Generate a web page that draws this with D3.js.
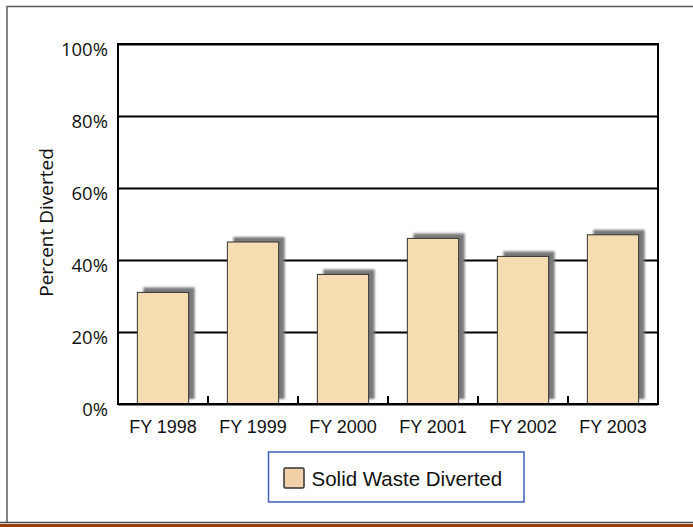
<!DOCTYPE html>
<html><head><meta charset="utf-8">
<script src="https://cdn.jsdelivr.net/npm/d3@7"></script>
<style>
html,body{margin:0;padding:0;background:#fff;}
svg{display:block;}
</style></head>
<body>
<svg id="chart" width="693" height="527"></svg>
<script>
const categories = ["FY 1998","FY 1999","FY 2000","FY 2001","FY 2002","FY 2003"];
const values = [31, 45, 36, 46, 41, 47];
const yTicks = [0, 20, 40, 60, 80, 100];
const seriesName = "Solid Waste Diverted";
const yTitle = "Percent Diverted";

const svg = d3.select("#chart");
const L = 118, R = 658, T = 44, B = 404;

// outer frame
svg.append("line").attr("x1",7).attr("x2",693).attr("y1",6.5).attr("y2",6.5).attr("stroke","#5a5a5a").attr("stroke-width",1.5);
svg.append("line").attr("x1",7).attr("x2",7).attr("y1",6).attr("y2",523).attr("stroke","#5a5a5a").attr("stroke-width",1.5);
svg.append("line").attr("x1",0).attr("x2",693).attr("y1",522.5).attr("y2",522.5).attr("stroke","#4a4a4a").attr("stroke-width",1.5);
svg.append("rect").attr("x",0).attr("y",524).attr("width",693).attr("height",3).attr("fill","#9a4010");

const x = d3.scaleBand().domain(categories).range([L, R]).paddingInner(0.43).paddingOuter(0.215);
const y = d3.scaleLinear().domain([0, 100]).range([B, T]);

const defs = svg.append("defs");
defs.append("filter").attr("id","blur").attr("x","-20%").attr("y","-20%").attr("width","140%").attr("height","140%")
  .append("feGaussianBlur").attr("stdDeviation",0.9);

// gridlines
const yAxis = d3.axisLeft(y).tickValues(yTicks).tickSize(-(R-L)).tickFormat(d => d + "%").tickPadding(10);
const ga = svg.append("g").attr("transform",`translate(${L},0)`).call(yAxis);
ga.select(".domain").remove();
ga.selectAll(".tick line").attr("stroke","#000").attr("stroke-width",2);
ga.selectAll(".tick text").attr("font-family","'Open Sans', sans-serif").attr("font-size","18.5px")
  .attr("fill","#111").attr("dy","0.6em").attr("x",-10);

// shadows
svg.append("g").selectAll("rect").data(values).join("rect")
  .attr("x",(d,i)=>x(categories[i])+6).attr("y",d=>y(d)-5)
  .attr("width",x.bandwidth()).attr("height",d=>B-y(d))
  .attr("fill","#7a7a7a").attr("filter","url(#blur)");

// bars
svg.append("g").selectAll("rect").data(values).join("rect")
  .attr("x",(d,i)=>x(categories[i])).attr("y",d=>y(d))
  .attr("width",x.bandwidth()).attr("height",d=>B-y(d))
  .attr("fill","#f5ddb1").attr("stroke","#333").attr("stroke-width",1);

// plot frame
svg.append("rect").attr("x",L).attr("y",T).attr("width",R-L).attr("height",B-T)
  .attr("fill","none").attr("stroke","#000").attr("stroke-width",2);

// x ticks (interior, upward)
const step = x.step();
svg.append("g").selectAll("line").data(categories.slice(0,-1)).join("line")
  .attr("x1",d=>x(d)+x.bandwidth()+step*x.paddingInner()/2)
  .attr("x2",d=>x(d)+x.bandwidth()+step*x.paddingInner()/2)
  .attr("y1",B).attr("y2",B-8).attr("stroke","#000").attr("stroke-width",2);

// x labels
const xAxis = d3.axisBottom(x).tickSize(0).tickPadding(0);
const gx = svg.append("g").attr("transform",`translate(0,${B})`).call(xAxis);
gx.select(".domain").remove();
gx.selectAll(".tick text").attr("font-family","'Liberation Sans', Arial, sans-serif").attr("font-size","18px")
  .attr("fill","#111").attr("y",29).attr("dy",0);

// y title
svg.append("text").attr("transform","translate(53,222.5) rotate(-90)").attr("text-anchor","middle")
  .attr("font-family","'Open Sans', sans-serif").attr("font-size","19px").attr("fill","#111").text(yTitle);

// legend
const lg = svg.append("g");
lg.append("rect").attr("x",268.5).attr("y",452).attr("width",255.5).attr("height",50)
  .attr("fill","#fff").attr("stroke","#3d5fb5").attr("stroke-width",1.5);
lg.append("rect").attr("x",284).attr("y",468).attr("width",20).attr("height",20).attr("rx",1.5)
  .attr("fill","#f2d1a9").attr("stroke","#333").attr("stroke-width",1.5);
lg.append("text").attr("x",311.5).attr("y",486).attr("font-family","'Liberation Sans', Arial, sans-serif")
  .attr("font-size","20.5px").attr("fill","#111").text(seriesName);
</script>
</body></html>
